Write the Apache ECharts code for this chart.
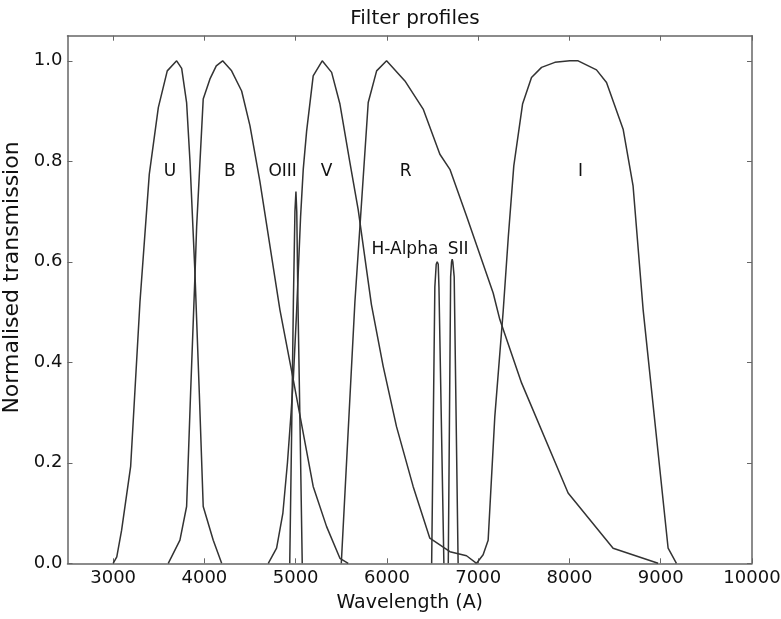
<!DOCTYPE html>
<html>
<head>
<meta charset="utf-8">
<title>Filter profiles</title>
<script src="https://cdn.jsdelivr.net/npm/echarts@6/dist/echarts.min.js"></script>
<style>
  html, body { margin: 0; padding: 0; background: #fff; }
  #chart { width: 781px; height: 619px; }
</style>
</head>
<body>
<div id="chart"></div>
<script>
// filter transmission curves, [wavelength (A), normalised transmission]
var uBand = [[3000, 0], [3040, 0.013], [3093, 0.066], [3192, 0.193], [3294, 0.52], [3396, 0.774], [3495, 0.907], [3593, 0.98], [3696, 1.0], [3751, 0.985], [3805, 0.917], [3842, 0.8], [3896, 0.58], [3944, 0.34], [3987, 0.113], [4097, 0.046], [4189, 0]]
var bBand = [[3604, 0], [3732, 0.046], [3805, 0.113], [3849, 0.34], [3896, 0.57], [3915, 0.67], [3987, 0.924], [4061, 0.964], [4130, 0.99], [4200, 1.0], [4298, 0.98], [4408, 0.94], [4499, 0.871], [4608, 0.76], [4827, 0.505], [4970, 0.369], [5192, 0.153], [5339, 0.073], [5485, 0.01], [5576, 0]]
var o3Band = [[4935, 0], [4955, 0.25], [4975, 0.52], [4992, 0.7], [5003, 0.74], [5012, 0.7], [5025, 0.52], [5050, 0.25], [5072, 0]]
var vBand = [[4700, 0], [4791, 0.03], [4860, 0.1], [4910, 0.2], [4950, 0.3], [4975, 0.37], [5010, 0.5], [5054, 0.69], [5083, 0.784], [5120, 0.86], [5192, 0.97], [5291, 1.0], [5394, 0.977], [5485, 0.914], [5594, 0.798], [5685, 0.704], [5830, 0.515], [5959, 0.392], [6105, 0.272], [6287, 0.153], [6470, 0.05], [6690, 0.023], [6872, 0.015], [6982, 0]]
var rBand = [[5500, 0], [5649, 0.52], [5795, 0.917], [5887, 0.98], [5996, 1.0], [6197, 0.96], [6397, 0.904], [6580, 0.814], [6690, 0.784], [6872, 0.691], [7164, 0.538], [7237, 0.485], [7475, 0.359], [7985, 0.14], [8478, 0.03], [8971, 0]]
var haBand = [[6490, 0], [6525, 0.55], [6540, 0.595], [6551, 0.6], [6562, 0.595], [6570, 0.55], [6624, 0]]
var s2Band = [[6672, 0], [6698, 0.57], [6708, 0.6], [6715, 0.605], [6722, 0.6], [6737, 0.57], [6780, 0]]
var iBand = [[6982, 0], [7054, 0.017], [7109, 0.046], [7182, 0.292], [7273, 0.5], [7330, 0.65], [7390, 0.791], [7486, 0.914], [7584, 0.967], [7694, 0.987], [7840, 0.997], [8004, 1.0], [8095, 1.0], [8296, 0.982], [8406, 0.957], [8588, 0.864], [8697, 0.751], [8807, 0.505], [9081, 0.03], [9172, 0]]

// filter names and where they are written
var filterNames = ['U', 'B', 'OIII', 'V', 'R', 'I', 'H-Alpha', 'SII']
var filterLabelX = [3623, 4280, 4857, 5339, 6204, 8121, 6197, 6780]
var filterLabelY = [0.78, 0.78, 0.78, 0.78, 0.78, 0.78, 0.624, 0.624]

var xTicks = [3000, 4000, 5000, 6000, 7000, 8000, 9000, 10000]
var yTicks = [0, 0.2, 0.4, 0.6, 0.8, 1.0]

var font = 'DejaVu Sans'
var frameColor = '#666'
var curveColor = '#333'

var chart = echarts.init(document.getElementById('chart'))

var bands = [uBand, bBand, o3Band, vBand, rBand, haBand, s2Band, iBand]
var series = bands.map(function(band) {
  return {
    type: 'line',
    data: band,
    showSymbol: false,
    symbol: 'none',
    lineStyle: { color: curveColor, width: 1.5 },
    silent: true
  }
})

series.push({
  type: 'scatter',
  symbolSize: 0,
  silent: true,
  itemStyle: { opacity: 1 },
  label: {
    show: true,
    position: 'inside',
    formatter: '{b}',
    color: '#111',
    opacity: 1,
    fontFamily: font,
    fontSize: 17
  },
  data: filterNames.map(function(n, i) {
    return { name: n, value: [filterLabelX[i], filterLabelY[i]] }
  })
})

function frameAxis(pos, isX) {
  return {
    type: 'value',
    position: pos,
    min: isX ? 2500 : 0,
    max: isX ? 10000 : 1.05,
    axisLine: { show: true, onZero: false, lineStyle: { color: frameColor, width: 1.5 } },
    axisTick: { show: true, inside: true, length: 5, customValues: isX ? xTicks : yTicks, lineStyle: { color: frameColor, width: 1 } },
    axisLabel: { show: false },
    splitLine: { show: false }
  }
}

chart.setOption({
  animation: false,
  backgroundColor: '#fff',
  title: {
    text: 'Filter profiles',
    left: 410,
    textAlign: 'center',
    top: 4,
    textStyle: { fontFamily: font, fontSize: 20, fontWeight: 'normal', color: '#111' }
  },
  grid: { left: 67.5, right: 29, top: 35.7, bottom: 55.7, containLabel: false, outerBoundsMode: 'none' },
  xAxis: [
    {
      type: 'value',
      position: 'bottom',
      min: 2500,
      max: 10000,
      name: 'Wavelength (A)',
      nameLocation: 'middle',
      nameGap: 30,
      nameTextStyle: { fontFamily: font, fontSize: 19, color: '#111' },
      axisLine: { show: true, onZero: false, lineStyle: { color: frameColor, width: 1.5 } },
      axisTick: { show: true, inside: true, length: 5, customValues: xTicks, lineStyle: { color: frameColor, width: 1 } },
      axisLabel: {
        show: true,
        customValues: xTicks,
        margin: 6,
        fontFamily: font,
        fontSize: 18,
        color: '#111',
        formatter: function(v) { return String(v) }
      },
      splitLine: { show: false }
    },
    frameAxis('top', true)
  ],
  yAxis: [
    {
      type: 'value',
      position: 'left',
      min: 0,
      max: 1.05,
      name: 'Normalised transmission',
      nameLocation: 'middle',
      nameGap: 39,
      nameTextStyle: { fontFamily: font, fontSize: 22, color: '#111', padding: [0, 0, 0, 44] },
      axisLine: { show: true, onZero: false, lineStyle: { color: frameColor, width: 1.5 } },
      axisTick: { show: true, inside: true, length: 5, customValues: yTicks, lineStyle: { color: frameColor, width: 1 } },
      axisLabel: {
        show: true,
        customValues: yTicks,
        margin: 5,
        fontFamily: font,
        fontSize: 18,
        color: '#111',
        formatter: function(v) { return v.toFixed(1) }
      },
      splitLine: { show: false }
    },
    frameAxis('right', false)
  ],
  series: series
})
</script>
</body>
</html>
